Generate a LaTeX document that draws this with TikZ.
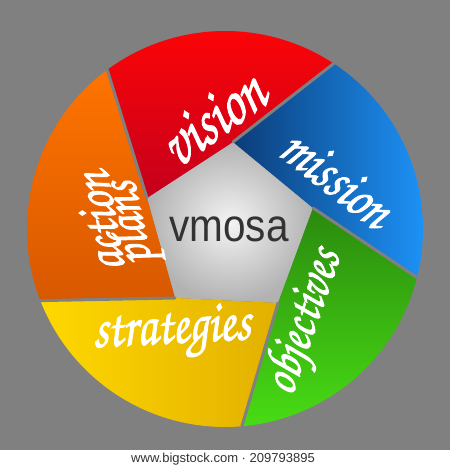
\documentclass[tikz,border=0pt]{standalone}
\usepackage{fontspec}
\usepackage{graphicx}
\newfontfamily\arialfont{Liberation Sans}
\newfontfamily\handfont{TeX Gyre Chorus}[FakeBold=1.6]
\usetikzlibrary{calc}
\definecolor{bg}{HTML}{808080}
\definecolor{redA}{HTML}{FF0505}
\definecolor{redB}{HTML}{C4001C}
\definecolor{blueA}{HTML}{0B3C78}
\definecolor{blueB}{HTML}{1E98FF}
\definecolor{greenA}{HTML}{2A8A0E}
\definecolor{greenB}{HTML}{48DC14}
\definecolor{yelA}{HTML}{FFD800}
\definecolor{yelB}{HTML}{E2B000}
\definecolor{oraA}{HTML}{FF7400}
\definecolor{oraB}{HTML}{D85800}
\definecolor{cenA}{HTML}{F4F4F4}
\definecolor{cenB}{HTML}{B2B2B2}
\definecolor{ink}{HTML}{333333}
\newcommand\hw[2]{\scalebox{1}[1.25]{\resizebox{#1}{!}{\handfont #2}}}
\tikzset{
  gapline/.style={draw=bg, line width=3pt, line cap=round},
  lbl/.style={text=white, inner sep=0pt},
}
\begin{document}
\begin{tikzpicture}[x=1pt,y=1pt]
\useasboundingbox (0,0) rectangle (450,470);
\fill[bg] (0,0) rectangle (450,470);
% centre and radius
\coordinate (C) at (225,241);
\def\R{198}
% pentagon vertices
\coordinate (Vt) at (233,328);
\coordinate (Vr) at (313,262);
\coordinate (Vbr) at (278,167);
\coordinate (Vbl) at (175,172);
\coordinate (Vtl) at (147,272);
% points on the rim
\coordinate (Prb) at ($(C)+(56.7:\R)$);
\coordinate (Pbg) at ($(C)+(-14.2:\R)$);
\coordinate (Pgy) at ($(C)+(-85.1:\R)$);
\coordinate (Pyo) at ($(C)+(201.2:\R)$);
\coordinate (Por) at ($(C)+(126.5:\R)$);
% centre
\shade[inner color=cenA, outer color=cenB] (Vt) -- (Vr) -- (Vbr) -- (Vbl) -- (Vtl) -- cycle;
% blades
\shade[top color=redA, bottom color=redB] (Vtl) -- (Vt) -- (Prb) arc[start angle=56.7, end angle=126.5, radius=\R] -- cycle;
\shade[left color=blueA, right color=blueB] (Vt) -- (Vr) -- (Pbg) arc[start angle=-14.2, end angle=56.7, radius=\R] -- cycle;
\shade[top color=greenA, bottom color=greenB] (Vr) -- (Vbr) -- (Pgy) arc[start angle=-85.1, end angle=-14.2, radius=\R] -- cycle;
\shade[left color=yelA, right color=yelB] (Vbr) -- (Vbl) -- (Pyo) arc[start angle=201.2, end angle=274.9, radius=\R] -- cycle;
\shade[top color=oraA, bottom color=oraB] (Vbl) -- (Vtl) -- (Por) arc[start angle=126.5, end angle=201.2, radius=\R] -- cycle;
% gaps
\draw[gapline] (Vt) -- (Prb);
\draw[gapline] (Vr) -- (Pbg);
\draw[gapline] (Vbr) -- (Pgy);
\draw[gapline] (Vbl) -- (Pyo);
\draw[gapline] (Vtl) -- (Por);
% labels
\node[lbl, rotate=36] (vision) at (212,352) {\hw{115pt}{vision}};
\node[lbl, rotate=-38] (mission) at (337,292) {\hw{125pt}{mission}};
\node[lbl, rotate=71] (objectives) at (305,148) {\hw{150pt}{objectives}};
\node[lbl, rotate=3] (strategies) at (172,138) {\hw{158pt}{strategies}};
\node[lbl, rotate=100] (action) at (99,248) {\hw{100pt}{action}};
\node[lbl, rotate=102] (plans) at (131,247) {\hw{85pt}{plans}};
\node[text=ink, inner sep=0pt] (vmosa) at (229,241) {\scalebox{0.9}[1.02]{\arialfont\fontsize{45}{45}\selectfont vmosa}};
% footer
\fill[white] (0,0) rectangle (450,20);
\node[text=ink, inner sep=0pt] (footer) at (223,11) {\arialfont\fontsize{13}{13}\selectfont www.bigstock.com · 209793895};
\end{tikzpicture}
\end{document}
